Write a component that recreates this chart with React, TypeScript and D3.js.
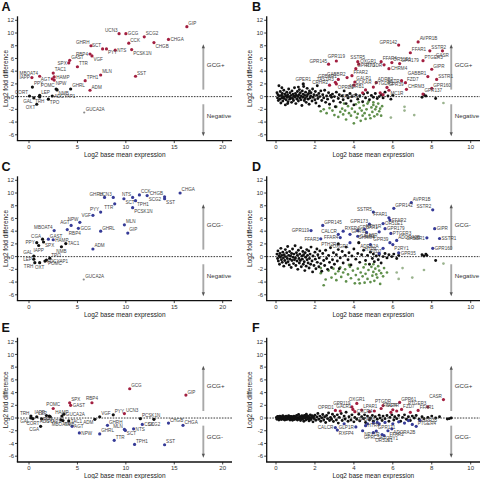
import React from 'react';
import * as d3 from 'd3';

type P = [string, number, number, string];
type XY = [number, number];

// ---------- DATA ----------
const aLabeled: P[] = [
  ['GIP', 16.3, 11.0, 'up'], ['CHGA', 14.4, 9.0, 'up'], ['SCG2', 11.9, 9.4, 'up'], ['CHGB', 12.9, 8.5, 'up'],
  ['UCN3', 9.3, 9.9, 'up'], ['GCG', 10.0, 9.9, 'up'], ['CCK', 10.3, 8.4, 'up'], ['PCSK1N', 10.6, 7.4, 'up'],
  ['NTS', 8.9, 7.3, 'up'], ['PYY', 8.0, 7.5, 'up'], ['SCT', 7.6, 7.5, 'up'], ['GHRH', 6.4, 8.0, 'up'],
  ['RBP4', 6.3, 6.7, 'up'], ['VGF', 6.5, 6.4, 'up'], ['GAST', 4.2, 5.7, 'up'], ['SPX', 4.1, 5.3, 'up'],
  ['TTR', 5.0, 4.7, 'up'], ['MLN', 7.4, 3.4, 'up'], ['SST', 11.0, 3.2, 'up'], ['TPH1', 5.8, 2.5, 'up'],
  ['ADM', 6.3, 1.0, 'up'], ['TAC1', 2.5, 3.7, 'up'], ['HAMP', 2.6, 3.1, 'up'], ['AGT', 2.4, 2.8, 'up'],
  ['NPW', 2.6, 2.6, 'up'], ['MBOAT4', 1.1, 3.2, 'up'], ['IAPP', 0.3, 3.0, 'up'],
  ['PPY', 0.35, 1.5, 'ns'], ['POMC', 2.8, 1.2, 'ns'], ['NMB', 2.9, 1.05, 'ns'], ['GHRL', 4.3, 1.2, 'ns'],
  ['CORT', 0.05, 0.1, 'ns'], ['GAL', 0.5, -0.2, 'ns'], ['LEP', 1.1, 0.2, 'ns'], ['TRH', 1.1, -0.05, 'ns'],
  ['OXT', 0.8, -1.2, 'ns'], ['TPO', 2.0, -0.4, 'ns'], ['ADCYAP1', 2.4, 0.1, 'ns'], ['GUCA2A', 5.7, -2.5, 'neg'],
];

const cLabeled: P[] = [
  ['CHGA', 15.6, 10.0, 'dn'], ['CHGB', 14.0, 9.4, 'dn'], ['SST', 14.0, 9.1, 'dn'], ['CCK', 11.4, 9.7, 'dn'],
  ['SCG2', 12.2, 9.6, 'dn'], ['NTS', 10.7, 9.3, 'dn'], ['SCT', 9.8, 9.1, 'dn'], ['TPH1', 11.0, 8.8, 'dn'],
  ['TTR', 8.85, 8.3, 'dn'], ['UCN3', 8.7, 9.3, 'dn'], ['GHRH', 7.8, 9.3, 'dn'], ['PCSK1N', 10.7, 7.7, 'dn'],
  ['PYY', 7.4, 7.0, 'dn'], ['VGF', 6.6, 6.5, 'dn'], ['NPW', 5.25, 5.4, 'dn'], ['AGT', 4.35, 4.9, 'dn'],
  ['GCG', 5.1, 4.45, 'dn'], ['RBP4', 3.95, 4.25, 'dn'], ['GHRL', 7.4, 4.0, 'dn'], ['MLN', 9.85, 5.0, 'dn'],
  ['GIP', 10.2, 3.7, 'dn'], ['MBOAT4', 2.6, 4.1, 'dn'], ['CGA', 1.4, 2.75, 'ns'], ['GAST', 2.0, 2.75, 'dn'],
  ['PPY', 0.8, 2.2, 'ns'], ['IAPP', 1.0, 1.75, 'ns'], ['SPX', 1.5, 2.3, 'ns'], ['HAMP', 2.5, 2.65, 'dn'],
  ['TAC1', 3.8, 2.05, 'ns'], ['NMB', 3.35, 1.55, 'ns'], ['ADM', 6.6, 1.2, 'dn'], ['GAL', 0.5, 0.1, 'ns'],
  ['LEP', 0.5, -0.4, 'ns'], ['TRH', 0.6, -0.95, 'ns'], ['OXT', 1.1, -0.95, 'ns'], ['TPO', 2.15, -0.25, 'ns'],
  ['ADCYAP1', 1.65, -0.7, 'ns'], ['POMC', 1.8, -0.55, 'ns'], ['GUCA2A', 5.65, -3.6, 'neg'],
];

const eLabeled: P[] = [
  ['GCG', 10.4, 4.6, 'up'], ['GIP', 16.2, 3.6, 'up'], ['RBP4', 6.5, 2.4, 'up'], ['SPX', 4.2, 2.4, 'up'],
  ['GAST', 4.3, 2.0, 'up'], ['POMC', 2.5, 1.5, 'up'], ['UCN3', 9.85, 0.7, 'up'],
  ['HAMP', 3.4, 0.3, 'ns'], ['GUCA2A', 3.6, 0.6, 'ns'], ['IAPP', 1.8, 0.4, 'ns'], ['PYY', 8.7, 0.5, 'ns'],
  ['VGF', 7.3, 0.2, 'ns'], ['ADM', 6.8, -0.2, 'ns'], ['PCSK1N', 11.5, -0.1, 'ns'], ['SCG2', 12.9, -0.2, 'ns'],
  ['TRH', 0.2, 0.3, 'ns'], ['LEP', 0.8, 0.2, 'ns'], ['GAL', 0.2, 0.0, 'ns'], ['CORT', 0.4, -0.1, 'ns'],
  ['PPY', 1.3, -0.15, 'ns'], ['CGA', 1.2, -1.3, 'ns'], ['TPO', 2.1, 0.3, 'ns'], ['ADCYAP1', 2.2, 0.2, 'ns'],
  ['MBOAT4', 3.3, -0.3, 'ns'], ['NMB', 3.5, -0.4, 'ns'], ['TAC1', 4.1, -0.45, 'ns'],
  ['CHGB', 14.4, -0.8, 'dn'], ['CHGA', 15.9, -1.15, 'dn'], ['CCK', 11.7, -1.0, 'dn'], ['NTS', 10.8, -1.7, 'dn'],
  ['MLN', 9.85, -1.8, 'dn'], ['SCT', 9.95, -1.95, 'dn'], ['GHRH', 8.1, -1.15, 'dn'], ['GHRL', 7.3, -2.5, 'dn'],
  ['NPW', 5.2, -2.35, 'dn'], ['AGT', 4.45, -1.3, 'dn'], ['TTR', 8.8, -3.5, 'dn'], ['TPH1', 10.9, -4.15, 'dn'],
  ['SST', 14.0, -4.2, 'dn'],
];

const bLabeled: P[] = [
  ['AVPR1B', 7.3, 8.6, 'up'], ['GPR142', 6.3, 8.1, 'up'], ['SSTR2', 7.9, 7.2, 'up'], ['FFAR1', 6.9, 6.9, 'up'],
  ['CASR', 8.55, 7.2, 'up'], ['PTGER3', 7.55, 5.65, 'up'], ['GIPR', 8.0, 4.3, 'up'], ['GABBR1', 7.8, 3.15, 'up'],
  ['SSTR1', 8.25, 2.7, 'up'], ['GPR160', 8.0, 1.3, 'up'], ['GPR137', 7.55, 0.4, 'up'], ['FFAR4', 5.4, 5.5, 'up'],
  ['OR51E1', 5.95, 5.35, 'up'], ['PTGDR', 5.55, 5.0, 'up'], ['GPR179', 6.35, 5.2, 'up'], ['CHRM4', 5.8, 4.4, 'up'],
  ['SCTR', 6.45, 2.5, 'up'], ['FZD7', 6.65, 2.2, 'up'], ['CHRM3', 6.7, 1.15, 'up'], ['ADRB2', 5.15, 2.2, 'up'],
  ['SSTR5', 4.2, 5.5, 'up'], ['OXGR1', 4.25, 5.1, 'up'], ['GPR173', 4.1, 4.4, 'up'], ['GPR119', 3.1, 5.6, 'up'],
  ['GPR145', 2.7, 5.1, 'up'], ['GABBR2', 3.65, 3.0, 'up'], ['FFAR2', 3.9, 3.3, 'up'], ['GALR1', 4.05, 2.3, 'up'],
  ['CCKAR', 4.0, 1.8, 'up'], ['GPBAR1', 3.2, 2.7, 'up'], ['TAS1R3', 3.05, 2.25, 'up'], ['CRHR2', 2.75, 1.8, 'up'],
  ['OPRD1', 3.1, 2.0, 'up'], ['ADRB1', 4.6, 1.05, 'up'], ['TAS2R13', 4.45, 0.6, 'up'], ['PTGDR2', 5.0, 1.5, 'up'],
  ['GPR39', 5.7, 1.45, 'up'], ['MC1R', 5.8, 1.0, 'up'], ['', 5.35, 0.6, 'up'], ['', 5.5, 0.3, 'up'],
  ['GPER1', 1.4, 2.0, 'ns'],
];

const dLabeled: P[] = [
  ['AVPR1B', 6.95, 8.5, 'dn'], ['GPR142', 6.05, 7.6, 'dn'], ['SSTR2', 8.05, 7.35, 'dn'], ['SSTR5', 5.0, 7.0, 'dn'],
  ['FFAR1', 5.8, 6.1, 'dn'], ['FFAR2', 5.85, 5.75, 'dn'], ['GPR173', 4.8, 5.1, 'dn'], ['OR51E1', 5.5, 5.2, 'dn'],
  ['GPR179', 5.6, 4.4, 'dn'], ['CASR', 5.3, 3.9, 'dn'], ['PTGER3', 5.9, 3.65, 'dn'], ['GIPR', 8.15, 4.4, 'dn'],
  ['GABBR1', 7.75, 2.95, 'dn'], ['SSTR1', 8.4, 2.85, 'dn'], ['GPR160', 8.05, 1.3, 'dn'], ['GPR145', 2.4, 4.9, 'dn'],
  ['GPR119', 1.8, 4.1, 'dn'], ['FFAR3', 2.3, 2.8, 'dn'], ['CALCR', 3.2, 3.5, 'dn'], ['RXFP4', 3.45, 4.0, 'dn'],
  ['FFAR4', 3.3, 3.0, 'dn'], ['GPR61', 3.8, 3.5, 'dn'], ['GPBAR1', 4.2, 4.1, 'dn'], ['NPY1R', 4.55, 4.3, 'dn'],
  ['GALR1', 4.2, 3.2, 'dn'], ['CHRM4', 4.65, 3.8, 'dn'], ['PTH2R', 3.2, 2.0, 'ns'], ['ADRA2A', 4.25, 2.2, 'ns'],
  ['ADORA2B', 6.2, 2.55, 'dn'], ['P2RY1', 6.0, 1.9, 'dn'], ['FZD7', 5.5, 1.3, 'dn'], ['GPR39', 5.85, 2.2, 'dn'],
  ['OXGR1', 3.8, 2.2, 'dn'], ['HTR4', 4.85, 1.9, 'dn'], ['GPR35', 6.3, 0.6, 'dn'], ['', 5.3, 0.5, 'dn'],
];

const fLabeled: P[] = [
  ['CASR', 8.6, 2.9, 'up'], ['PTGER3', 7.8, 1.75, 'up'], ['FFAR1', 7.3, 1.2, 'up'], ['GPR61', 6.35, 2.45, 'up'],
  ['PTGDR', 5.5, 1.95, 'up'], ['OXGR1', 4.15, 2.3, 'up'], ['GPR119', 3.9, 1.75, 'up'], ['GALR1', 3.95, 1.35, 'up'],
  ['LPAR1', 4.4, 1.25, 'up'], ['CXCR4', 4.05, 1.0, 'up'], ['OPRD1', 3.05, 1.2, 'up'], ['FFAR4', 5.4, 1.5, 'up'],
  ['SCTR', 6.0, 1.3, 'up'], ['FZD7', 6.45, 1.35, 'up'], ['', 3.3, 1.1, 'up'], ['', 4.8, 1.0, 'up'],
  ['', 5.9, 0.9, 'up'], ['', 6.9, 0.9, 'up'], ['', 6.2, 1.1, 'up'], ['', 5.05, 1.1, 'up'],
  ['CALCR', 3.05, -1.5, 'dn'], ['RXFP4', 3.15, -1.9, 'dn'], ['GLP1R', 4.1, -1.4, 'dn'], ['NPY1R', 4.45, -2.0, 'dn'],
  ['HTR4', 4.6, -1.2, 'dn'], ['GPRC5A', 5.0, -2.3, 'dn'], ['GPR171', 5.15, -2.05, 'dn'], ['P2RY1', 5.45, -2.6, 'dn'],
  ['OR51E1', 5.55, -2.75, 'dn'], ['FFAR2', 5.75, -2.0, 'dn'], ['ADORA2B', 5.95, -1.7, 'dn'], ['PTGER4', 7.2, -1.3, 'dn'],
  ['GPR35', 7.4, -0.4, 'dn'], ['GPBAR1', 5.2, -0.7, 'dn'], ['', 5.0, -0.8, 'dn'], ['', 5.3, -0.9, 'dn'],
  ['', 5.6, -0.7, 'dn'], ['', 6.0, -0.9, 'dn'], ['', 6.3, -0.6, 'dn'], ['', 6.6, -0.8, 'dn'], ['', 7.0, -1.0, 'dn'],
  ['', 4.7, -0.9, 'dn'], ['', 3.5, -0.9, 'dn'], ['', 6.8, -0.4, 'dn'],
];

const bBlack: XY[] = [
  [0.05,0.6],[0.08,-0.2],[0.1,0.3],[0.12,-0.6],[0.15,1.7],[0.18,0.1],[0.2,-0.4],[0.22,0.8],[0.25,-1.0],[0.28,0.2],
  [0.3,-0.2],[0.32,0.5],[0.35,-0.7],[0.38,0.0],[0.4,1.0],[0.42,-0.3],[0.45,0.4],[0.48,-1.3],[0.5,0.1],[0.52,-0.5],
  [0.55,0.7],[0.58,-0.1],[0.6,0.3],[0.62,-0.8],[0.65,1.2],[0.68,0.0],[0.7,-0.4],[0.72,0.6],[0.75,-0.2],[0.78,0.2],
  [0.8,-0.9],[0.82,0.9],[0.85,-0.3],[0.88,0.4],[0.9,-0.6],[0.92,0.1],[0.95,1.4],[0.98,-0.1],[1.0,0.5],[1.02,-1.1],
  [1.05,0.2],[1.08,-0.4],[1.1,0.8],[1.12,0.0],[1.15,-0.7],[1.18,0.3],[1.2,1.1],[1.22,-0.2],[1.25,0.6],[1.28,-0.5],
  [1.3,0.1],[1.33,-1.4],[1.35,0.9],[1.38,-0.1],[1.4,0.4],[1.42,1.6],[1.45,-0.6],[1.48,0.2],[1.5,-0.3],[1.52,0.7],
  [1.55,-0.9],[1.58,0.0],[1.6,1.3],[1.62,0.3],[1.65,-0.4],[1.68,0.5],[1.7,-1.2],[1.72,0.9],[1.75,-0.2],[1.78,0.1],
  [1.8,0.6],[1.85,-0.7],[1.88,1.2],[1.9,-0.1],[1.95,0.3],[2.0,-0.5],[2.02,0.8],[2.05,-1.0],[2.1,0.2],[2.12,1.7],
  [2.15,-0.3],[2.2,0.5],[2.22,-1.5],[2.25,0.0],[2.3,0.9],[2.35,-0.6],[2.4,0.3],[2.45,-0.2],[2.5,1.0],[2.55,-0.9],
  [2.6,0.1],[2.65,-0.4],[2.7,0.6],[2.75,-1.2],[2.8,0.2],[2.85,-0.1],[2.9,0.4],[2.95,-0.7],[3.0,0.0],[3.05,-1.6],
  [3.1,0.7],[3.2,-0.3],[3.25,0.3],[3.3,-0.9],[3.4,0.1],[3.45,-0.5],[3.5,0.9],[3.6,-1.1],[3.65,0.2],[3.7,-0.2],
  [3.8,0.5],[3.85,-0.7],[3.9,0.0],[4.0,-1.3],[4.1,0.3],[4.2,-0.4],[4.3,0.1],[4.45,-0.8],[4.5,0.4],[4.6,-0.2],
  [4.7,0.6],[4.8,-0.5],[4.9,0.2],[5.0,-0.1],[5.1,0.5],[5.2,-0.3],[5.3,0.0],[5.4,0.3],[5.5,-0.2],[5.6,0.7],
  [5.75,0.1],[5.9,-0.4],[6.0,0.2],[7.5,-0.1],[7.6,0.3],[7.7,0.1],[8.2,-0.3],[0.3,1.4],[0.6,-1.1],[1.15,1.5],
];

const bGreen: XY[] = [
  [2.3,-2.3],[2.45,-2.0],[2.6,-2.6],[2.75,-1.8],[2.9,-2.2],[3.0,-2.9],[3.1,-1.6],[3.2,-3.2],[3.3,-2.4],[3.4,-1.9],
  [3.45,-2.8],[3.55,-2.2],[3.6,-3.6],[3.7,-1.5],[3.75,-2.6],[3.85,-3.0],[3.9,-1.9],[4.0,-4.2],[4.05,-2.4],[4.1,-1.2],
  [4.15,-3.3],[4.2,-2.7],[4.3,-1.8],[4.35,-3.8],[4.4,-2.2],[4.45,-3.0],[4.5,-1.4],[4.55,-2.6],[4.6,-3.5],[4.65,-2.0],
  [4.7,-1.1],[4.8,-2.9],[4.85,-3.4],[4.9,-1.7],[4.95,-2.4],[5.0,-1.3],[5.05,-3.1],[5.1,-2.0],[5.15,-1.6],[5.2,-2.8],
  [5.25,-1.1],[5.3,-2.3],[5.35,-1.9],[5.4,-3.0],[5.45,-1.5],[5.0,-0.9],[4.75,-0.8],[4.25,-0.9],[3.5,-1.1],[5.9,-3.3],
  [6.6,-1.6],[6.6,-2.2],[7.1,-2.9],[8.6,-1.0],
];

const dBlack: XY[] = [
  [0.05,0.4],[0.08,-0.3],[0.1,0.9],[0.12,-0.7],[0.15,0.1],[0.18,-1.2],[0.2,0.5],[0.22,-0.1],[0.25,1.3],[0.28,-0.5],
  [0.3,0.2],[0.32,-0.9],[0.35,0.7],[0.38,-0.2],[0.4,-1.5],[0.42,0.3],[0.45,-0.6],[0.48,1.1],[0.5,0.0],[0.52,-1.0],
  [0.55,0.6],[0.58,-0.3],[0.6,1.6],[0.62,-0.8],[0.65,0.2],[0.68,-1.3],[0.7,0.8],[0.72,-0.4],[0.75,0.1],[0.78,-1.7],
  [0.8,0.5],[0.82,-0.6],[0.85,1.2],[0.88,-0.1],[0.9,-1.1],[0.92,0.4],[0.95,-0.5],[0.98,1.7],[1.0,-0.2],[1.02,-1.4],
  [1.05,0.6],[1.08,-0.7],[1.1,0.2],[1.12,-2.0],[1.15,1.0],[1.18,-0.3],[1.2,-1.0],[1.22,0.4],[1.25,-0.6],[1.28,1.4],
  [1.3,-1.6],[1.33,0.1],[1.35,-0.4],[1.38,0.8],[1.4,-1.2],[1.42,0.3],[1.45,-0.8],[1.48,-2.2],[1.5,0.6],[1.52,-0.1],
  [1.55,-1.5],[1.58,1.1],[1.6,-0.5],[1.62,0.2],[1.65,-1.0],[1.68,0.9],[1.7,-1.8],[1.72,-0.3],[1.75,0.4],[1.78,-1.2],
  [1.8,1.5],[1.85,-0.7],[1.88,-2.4],[1.9,0.1],[1.95,-1.4],[2.0,0.7],[2.02,-0.4],[2.05,-1.9],[2.1,1.2],[2.12,-0.9],
  [2.15,0.3],[2.2,-1.6],[2.22,-0.2],[2.25,0.9],[2.3,-1.1],[2.35,-2.3],[2.4,0.5],[2.45,-0.6],[2.5,-1.4],[2.55,1.0],
  [2.6,-0.3],[2.65,-2.0],[2.7,0.2],[2.75,-0.9],[2.8,1.4],[2.85,-1.7],[2.9,-0.5],[2.95,0.6],[3.0,-1.2],[3.1,0.3],
  [3.15,-0.7],[3.2,1.1],[3.25,-1.9],[3.3,-0.2],[3.4,0.8],[3.45,-1.0],[3.55,0.2],[3.6,1.5],[3.7,-0.5],[3.75,0.6],
  [3.85,-1.3],[3.9,0.1],[4.0,1.2],[4.1,-0.4],[4.2,0.5],[4.3,-0.9],[4.4,0.3],[4.5,1.0],[4.6,-0.6],[4.7,0.2],
  [4.8,-1.2],[4.85,0.7],[4.95,-0.3],[5.0,0.4],[5.05,-0.8],[5.15,0.1],[5.25,-0.5],[5.3,0.3],[5.4,-1.0],[5.5,0.0],
  [5.6,0.5],[5.7,-0.2],[5.8,0.3],[5.95,0.0],[6.05,0.4],[6.2,-0.3],[6.3,0.2],[7.5,0.3],[7.6,0.1],[7.7,0.4],
  [7.75,0.2],[8.2,-0.6],
];

const dGreen: XY[] = [
  [2.3,-2.6],[2.45,-4.5],[2.55,-3.6],[2.3,-1.8],[2.7,-2.2],[2.85,-3.3],[2.95,-1.9],[3.05,-2.7],[3.1,-3.7],[3.2,-2.3],
  [3.3,-1.7],[3.35,-3.2],[3.45,-2.5],[3.55,-2.0],[3.6,-3.9],[3.7,-2.8],[3.8,-1.6],[3.85,-3.4],[3.95,-2.2],[4.05,-4.2],
  [4.1,-2.9],[4.2,-1.9],[4.25,-3.6],[4.3,-4.2],[4.35,-2.5],[4.45,-3.1],[4.5,-1.7],[4.55,-4.1],[4.6,-2.7],[4.7,-3.5],
  [4.75,-2.1],[4.85,-4.0],[4.9,-1.6],[4.95,-3.0],[5.0,-2.4],[5.05,-3.8],[5.1,-1.9],[5.15,-2.8],[5.2,-3.3],[5.25,-1.5],
  [5.3,-2.2],[5.35,-4.3],[5.4,-2.6],[5.5,-3.1],[5.55,-1.8],[4.6,-1.2],[3.75,-1.3],[5.0,-1.2],[5.7,-2.5],[6.3,-3.5],
  [6.5,-1.8],[6.2,-2.5],[7.0,-3.3],[7.6,-2.1],[8.6,-1.1],
];

const fBlack: XY[] = [
  [0.02,0.1],[0.05,-0.2],[0.08,0.25],[0.1,-0.05],[0.12,0.15],[0.15,-0.3],[0.18,0.05],[0.2,0.3],[0.22,-0.15],[0.25,0.1],
  [0.28,-0.25],[0.3,0.2],[0.32,-0.05],[0.35,0.35],[0.38,-0.2],[0.4,0.0],[0.42,0.2],[0.45,-0.3],[0.48,0.1],[0.5,-0.1],
  [0.52,0.3],[0.55,-0.25],[0.58,0.05],[0.6,0.2],[0.62,-0.15],[0.65,0.35],[0.68,-0.05],[0.7,0.15],[0.72,-0.3],[0.75,0.0],
  [0.78,0.25],[0.8,-0.2],[0.82,0.1],[0.85,-0.35],[0.88,0.2],[0.9,-0.05],[0.92,0.3],[0.95,-0.25],[0.98,0.05],[1.0,0.2],
  [1.03,-0.15],[1.06,0.4],[1.1,-0.3],[1.13,0.1],[1.16,0.55],[1.2,-0.1],[1.23,0.25],[1.26,-0.4],[1.3,0.05],[1.33,0.35],
  [1.36,-0.2],[1.4,0.15],[1.43,-0.5],[1.46,0.4],[1.5,0.0],[1.53,-0.3],[1.56,0.6],[1.6,0.2],[1.63,-0.15],[1.66,0.3],
  [1.7,-0.45],[1.73,0.1],[1.76,0.5],[1.8,-0.25],[1.83,0.05],[1.86,0.35],[1.9,-0.6],[1.93,0.2],[1.96,-0.1],[2.0,0.45],
  [2.05,-0.35],[2.1,0.15],[2.15,0.7],[2.2,-0.2],[2.25,0.3],[2.3,-0.5],[2.35,0.05],[2.4,0.55],[2.45,-0.3],[2.5,0.2],
  [2.55,-0.7],[2.6,0.4],[2.65,-0.1],[2.7,0.8],[2.75,-0.4],[2.8,0.1],[2.85,-0.2],[2.9,0.6],[2.95,-0.55],[3.0,0.25],
  [3.1,-0.3],[3.15,0.5],[3.2,-0.8],[3.25,0.1],[3.35,0.7],[3.4,-0.4],[3.5,0.3],[3.55,-0.15],[3.6,0.9],[3.7,-0.5],
  [3.75,0.2],[3.85,-0.3],[3.9,0.5],[4.0,-0.6],[4.05,0.1],[4.15,-0.2],[4.25,0.6],[4.3,-0.45],[4.4,0.2],[4.5,-0.1],
  [4.55,0.5],[4.6,-0.7],[4.7,0.3],[4.8,-0.3],[4.85,0.0],[4.95,0.4],[5.0,-0.5],[5.1,0.2],[5.2,-0.2],[5.3,0.45],
  [5.35,0.0],[5.45,-0.4],[5.5,0.3],[5.6,-0.1],[5.7,0.4],[5.8,-0.5],[5.85,0.1],[5.95,0.5],[6.05,-0.3],[6.1,0.2],
  [6.2,-0.1],[6.3,0.4],[6.4,-0.5],[6.5,0.1],[6.6,0.5],[6.7,-0.2],[6.8,0.2],[6.9,-0.4],[7.0,0.3],[7.1,0.0],
  [7.2,0.4],[7.35,-0.2],[7.5,0.2],[7.6,-0.1],[7.8,0.1],[8.0,0.3],[8.2,0.0],[8.4,0.2],[8.9,-0.1],[9.0,0.0],
  [8.8,-0.15],[0.06,0.05],[0.14,0.2],[0.24,-0.1],[0.34,0.1],[0.44,-0.2],[0.54,0.15],[0.64,-0.1],[0.74,0.2],[0.84,0.05],
  [0.94,0.1],[1.04,-0.05],[1.14,-0.2],[1.24,0.0],[1.34,0.1],[1.44,0.05],[1.54,0.25],[1.64,-0.05],[1.74,-0.2],[1.84,0.15],
];

const panelLetters = ['A', 'B', 'C', 'D', 'E', 'F'];
const upperLabels = ['GCG+', 'GCG+', 'GCG-', 'GCG-', 'GCG+', 'GCG+'];
const lowerLabels = ['Negative', 'Negative', 'Negative', 'Negative', 'GCG-', 'GCG-'];
const yTicks = [-6, -4, -2, 0, 2, 4, 6, 8, 10, 12];
const xTicksWide = [0, 5, 10, 15, 20];
const xTicksNarrow = [0, 2, 4, 6, 8, 10];
const xTitle = 'Log2 base mean expression';
const yTitle = 'Log2 fold difference';

// ---------- LABEL PLACEMENT (layout only) ----------
const placeA: Record<string, string> = {
  GIP: 'ra', CHGA: 'r', SCG2: 'ra', CHGB: 'rb', UCN3: 'la', GCG: 'r', CCK: 'ra', PCSK1N: 'rb', NTS: 'r', PYY: 'rb',
  SCT: 'la', GHRH: 'la', RBP4: 'l', VGF: 'rb', GAST: 'ra', SPX: 'l', TTR: 'ra', MLN: 'ra', SST: 'ra', TPH1: 'ra',
  ADM: 'ra', TAC1: 'ra', HAMP: 'r', AGT: 'l', NPW: 'rb', MBOAT4: 'la', IAPP: 'l', PPY: 'ra', POMC: 'la', NMB: 'rb',
  GHRL: 'ra', CORT: 'la', GAL: 'lb', LEP: 'ra', TRH: 'b', OXT: 'lb', TPO: 'rb', ADCYAP1: 'r', GUCA2A: 'ra',
};
const placeC: Record<string, string> = {
  CHGA: 'ra', CHGB: 'la', SST: 'rb', CCK: 'ra', SCG2: 'rb', NTS: 'la', SCT: 'rb', TPH1: 'rb', TTR: 'lb', UCN3: 'la',
  GHRH: 'la', PCSK1N: 'rb', PYY: 'la', VGF: 'l', NPW: 'la', AGT: 'la', GCG: 'r', RBP4: 'rb', GHRL: 'ra', MLN: 'ra',
  GIP: 'ra', MBOAT4: 'la', CGA: 'la', GAST: 'ra', PPY: 'l', IAPP: 'b', SPX: 'rb', HAMP: 'r', TAC1: 'r', NMB: 'b',
  ADM: 'ra', GAL: 'la', LEP: 'l', TRH: 'lb', OXT: 'b', TPO: 'ra', ADCYAP1: 'r', POMC: 'rb', GUCA2A: 'ra',
};
const placeE: Record<string, string> = {
  GCG: 'ra', GIP: 'ra', RBP4: 't', SPX: 'ra', GAST: 'r', POMC: 't', UCN3: 'ra', HAMP: 't', GUCA2A: 'r', IAPP: 'la',
  PYY: 'ra', VGF: 'ra', ADM: 'lb', PCSK1N: 'ra', SCG2: 'b', TRH: 'la', LEP: 'ra', GAL: 'lb', CORT: 'b', PPY: 'r',
  CGA: 'lb', TPO: 'b', ADCYAP1: 'b', MBOAT4: 'b', NMB: 'rb', TAC1: 'r', CHGB: 'ra', CHGA: 'ra', CCK: 'r', NTS: 'r',
  MLN: 'la', SCT: 'rb', GHRH: 'ra', GHRL: 'ra', NPW: 'r', AGT: 'r', TTR: 'ra', TPH1: 'ra', SST: 'ra',
};
const placeB: Record<string, string> = {
  AVPR1B: 'ra', GPR142: 'la', SSTR2: 'ra', FFAR1: 'ra', CASR: 'b', PTGER3: 'ra', GIPR: 'ra', GABBR1: 'la',
  SSTR1: 'ra', GPR160: 'ra', GPR137: 'ra', FFAR4: 'ra', OR51E1: 'ra', PTGDR: 'l', GPR179: 'ra', CHRM4: 'r',
  SCTR: 'l', FZD7: 'ra', CHRM3: 'ra', ADRB2: 'ra', SSTR5: 't', OXGR1: 'ra', GPR173: 'ra', GPR119: 't',
  GPR145: 'la', GABBR2: 'la', FFAR2: 'ra', GALR1: 'ra', CCKAR: 'ra', GPBAR1: 'la', TAS1R3: 'la', CRHR2: 'la',
  OPRD1: 'rb', ADRB1: 'la', TAS2R13: 'lb', PTGDR2: 'ra', GPR39: 'ra', MC1R: 'rb', GPER1: 't',
};
const placeD: Record<string, string> = {
  AVPR1B: 'ra', GPR142: 'ra', SSTR2: 'la', SSTR5: 'la', FFAR1: 'la', FFAR2: 'r', GPR173: 'la', OR51E1: 'r',
  GPR179: 'r', CASR: 'lb', PTGER3: 'r', GIPR: 'r', GABBR1: 'l', SSTR1: 'r', GPR160: 'r', GPR145: 'ra',
  GPR119: 'l', FFAR3: 'l', CALCR: 'la', RXFP4: 'ra', FFAR4: 'l', GPR61: 'ra', GPBAR1: 'ra', NPY1R: 'ra',
  GALR1: 'r', CHRM4: 'b', PTH2R: 'l', ADRA2A: 'rb', ADORA2B: 'ra', P2RY1: 'rb', FZD7: 'lb', GPR39: 'la',
  OXGR1: 'lb', HTR4: 'b', GPR35: 'r',
};
const placeF: Record<string, string> = {
  CASR: 'la', PTGER3: 'la', FFAR1: 'ra', GPR61: 'ra', PTGDR: 't', OXGR1: 't', GPR119: 'la', GALR1: 'la',
  LPAR1: 'ra', CXCR4: 'r', OPRD1: 'la', FFAR4: 'ra', SCTR: 't', FZD7: 'ra', CALCR: 'l', RXFP4: 'rb',
  GLP1R: 'l', NPY1R: 'rb', HTR4: 'r', GPRC5A: 'b', GPR171: 'ra', P2RY1: 'rb', OR51E1: 'b', FFAR2: 'rb',
  ADORA2B: 'rb', PTGER4: 'ra', GPR35: 'r', GPBAR1: 'la',
};

// ---------- STYLE / LAYOUT ----------
const COLORS: Record<string, string> = {
  up: '#a21f40', dn: '#363b97', ns: '#111111', neg: '#8a8a8a', green: '#5f8f4b',
};
const FONT = '"Liberation Sans", Arial, Helvetica, sans-serif';
const ROW_TOP = [20.3, 180.3, 341.7];
const KY = 6.36;
const COLS = [
  { axisX: 17.5, x0: 29, x1: 222.7, dmax: 20, right: 232, arrowV: 18, ticks: xTicksWide },
  { axisX: 266.7, x0: 276, x1: 470.7, dmax: 10, right: 480, arrowV: 9, ticks: xTicksNarrow },
];

function placeOffset(code: string) {
  switch (code) {
    case 'r': return { dx: 2, dy: 1.8, a: 'start' };
    case 'l': return { dx: -2, dy: 1.8, a: 'end' };
    case 'ra': return { dx: 1.5, dy: -1.6, a: 'start' };
    case 'rb': return { dx: 1.5, dy: 5, a: 'start' };
    case 'lb': return { dx: -1.5, dy: 5, a: 'end' };
    case 't': return { dx: 0, dy: -2.6, a: 'middle' };
    case 'b': return { dx: 0, dy: 6.4, a: 'middle' };
    default: return { dx: -1.5, dy: -1.6, a: 'end' };
  }
}

interface PanelProps {
  idx: number;
  labeled: P[];
  black?: XY[];
  green?: XY[];
  place: Record<string, string>;
}

function Panel({ idx, labeled, black = [], green = [], place }: PanelProps) {
  const col = COLS[idx % 2];
  const row = Math.floor(idx / 2);
  const top = ROW_TOP[row];
  const x = d3.scaleLinear().domain([0, col.dmax]).range([col.x0, col.x1]);
  const y = d3.scaleLinear().domain([-6, 12]).range([top + 18 * KY, top]);
  const axisY = y(-6) + 5.8;
  const axisTop = y(12) - 4;
  const arrowX = x(col.arrowV);
  const midY = (axisTop + axisY) / 2;
  const midX = (col.axisX + col.right) / 2;
  const gray = '#a8a8a8';
  const head = '#555';
  return (
    <g>
      <text x={idx % 2 === 0 ? 1.5 : 252} y={top - 9.6} fontSize={12.5} fontWeight="bold" fontFamily={FONT} fill="#111">
        {panelLetters[idx]}
      </text>
      {/* zero dashed line */}
      <line x1={col.axisX} x2={col.right} y1={y(0)} y2={y(0)} stroke="#222" strokeWidth={0.9} strokeDasharray="1.6,1.2" />
      {/* arrows */}
      <line x1={arrowX} x2={arrowX} y1={y(8) + 2} y2={y(1.1)} stroke={gray} strokeWidth={1.9} />
      <path d={`M${arrowX},${y(8) - 1.5} L${arrowX - 1.6},${y(8) + 2.5} L${arrowX + 1.6},${y(8) + 2.5} Z`} fill={head} />
      <line x1={arrowX} x2={arrowX} y1={y(-1.2)} y2={y(-6) - 2} stroke={gray} strokeWidth={1.9} />
      <path d={`M${arrowX},${y(-6) + 1.5} L${arrowX - 1.6},${y(-6) - 2.5} L${arrowX + 1.6},${y(-6) - 2.5} Z`} fill={head} />
      <text x={arrowX + 3.5} y={y(5) + 2.2} fontSize={6.2} fontFamily={FONT} fill="#333">{upperLabels[idx]}</text>
      <text x={arrowX + 3.5} y={y(-3) + 2.2} fontSize={6.2} fontFamily={FONT} fill="#333">{lowerLabels[idx]}</text>
      {/* axes */}
      <line x1={col.axisX} x2={col.axisX} y1={axisTop} y2={axisY} stroke="#111" strokeWidth={1.3} />
      <line x1={col.axisX - 0.65} x2={col.right} y1={axisY} y2={axisY} stroke="#111" strokeWidth={1.3} />
      {yTicks.map((t) => (
        <g key={'y' + t}>
          <line x1={col.axisX - 2.5} x2={col.axisX} y1={y(t)} y2={y(t)} stroke="#111" strokeWidth={0.8} />
          <text x={col.axisX - 3.5} y={y(t) + 2.1} fontSize={6} fontFamily={FONT} fill="#333" textAnchor="end">{String(t)}</text>
        </g>
      ))}
      {col.ticks.map((t) => (
        <g key={'x' + t}>
          <line x1={x(t)} x2={x(t)} y1={axisY} y2={axisY + 2.5} stroke="#111" strokeWidth={0.8} />
          <text x={x(t)} y={axisY + 8.4} fontSize={6} fontFamily={FONT} fill="#333" textAnchor="middle">{String(t)}</text>
        </g>
      ))}
      <text x={midX} y={axisY + 16.5} fontSize={6.5} fontFamily={FONT} fill="#222" textAnchor="middle">{xTitle}</text>
      <text transform={`translate(${idx % 2 === 0 ? 8.3 : 252.3},${midY}) rotate(-90)`} fontSize={6.5} fontFamily={FONT} fill="#222" textAnchor="middle">{yTitle}</text>
      {/* points */}
      {green.map((p, i) => (
        <circle key={'g' + i} cx={x(p[0])} cy={y(p[1])} r={1.35} fill={p[0] > 5.8 ? '#9bb48f' : COLORS.green} />
      ))}
      {black.map((p, i) => (
        <circle key={'k' + i} cx={x(p[0])} cy={y(p[1])} r={1.45} fill={COLORS.ns} />
      ))}
      {labeled.map((p, i) => (
        <circle key={'p' + i} cx={x(p[1])} cy={y(p[2])} r={p[3] === 'neg' ? 1.1 : 1.6} fill={COLORS[p[3]]} />
      ))}
      {labeled.filter((p) => p[0] !== '').map((p, i) => {
        const o = placeOffset(place[p[0]] || 'la');
        return (
          <text key={'t' + i} x={x(p[1]) + o.dx} y={y(p[2]) + o.dy} fontSize={4.6} fontFamily={FONT} fill="#444"
            textAnchor={o.a as any}>{p[0]}</text>
        );
      })}
    </g>
  );
}

export default function App() {
  return (
    <svg width={480} height={479} viewBox="0 0 480 479"
      style={{ position: 'absolute', left: 0, top: 0, background: '#fff' }}>
      <rect x={0} y={0} width={480} height={479} fill="#fff" />
      <Panel idx={0} labeled={aLabeled} place={placeA} />
      <Panel idx={1} labeled={bLabeled} black={bBlack} green={bGreen} place={placeB} />
      <Panel idx={2} labeled={cLabeled} place={placeC} />
      <Panel idx={3} labeled={dLabeled} black={dBlack} green={dGreen} place={placeD} />
      <Panel idx={4} labeled={eLabeled} place={placeE} />
      <Panel idx={5} labeled={fLabeled} black={fBlack} place={placeF} />
    </svg>
  );
}
